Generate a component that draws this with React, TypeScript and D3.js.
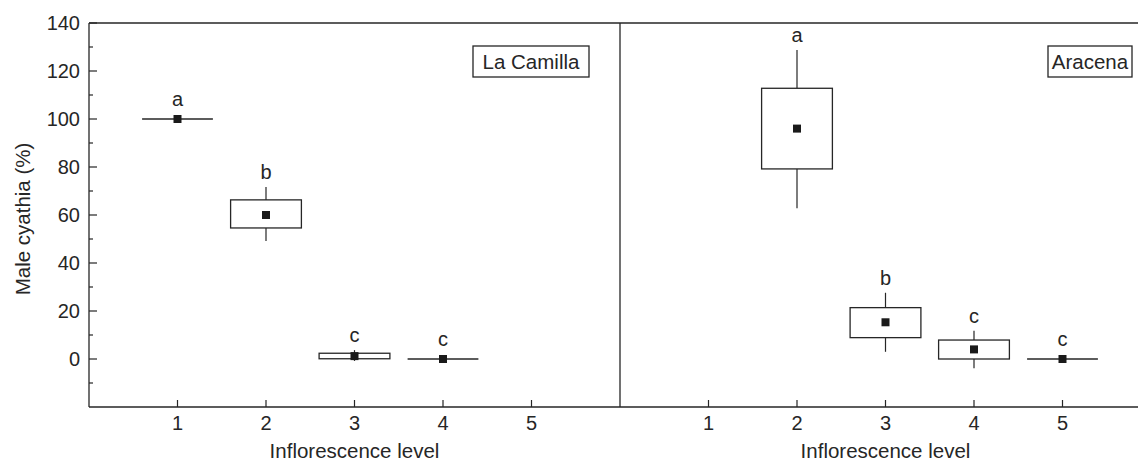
import React from 'react';
import * as d3 from 'd3';

// y ticks and x ticks
const yMajor = [0, 20, 40, 60, 80, 100, 120, 140];
const yMinor = [-10, 10, 30, 50, 70, 90, 110, 130];
const levels = [1, 2, 3, 4, 5];

// La Camilla
const camillaLevel = [1, 2, 3, 4];
const camillaMean = [100, 60, 1.2, 0];
const camillaQ1 = [100, 54.6, 0.1, 0];
const camillaQ3 = [100, 66.3, 2.4, 0];
const camillaLo = [100, 49.2, -0.8, 0];
const camillaHi = [100, 71.7, 3.7, 0];
const camillaLetter = ['a', 'b', 'c', 'c'];

// Aracena
const aracenaLevel = [2, 3, 4, 5];
const aracenaMean = [96, 15.3, 4.0, 0];
const aracenaQ1 = [79.2, 8.9, 0, 0];
const aracenaQ3 = [112.8, 21.4, 7.9, 0];
const aracenaLo = [62.8, 3.0, -3.9, 0];
const aracenaHi = [128.8, 27.6, 11.8, 0];
const aracenaLetter = ['a', 'b', 'c', 'c'];

const W = 1138;
const H = 463;
const top = 23;
const bottom = 407;
const left = 89;
const panelW = 531;
const font = '"Liberation Sans", Arial, sans-serif';
const ink = '#262626';

const y = d3.scaleLinear().domain([-20, 140]).range([bottom, top]);

type Panel = {
  name: string;
  level: number[];
  mean: number[];
  q1: number[];
  q3: number[];
  lo: number[];
  hi: number[];
  letter: string[];
  legendRight: number;
};

const panels: Panel[] = [
  { name: 'La Camilla', level: camillaLevel, mean: camillaMean, q1: camillaQ1, q3: camillaQ3, lo: camillaLo, hi: camillaHi, letter: camillaLetter, legendRight: 31 },
  { name: 'Aracena', level: aracenaLevel, mean: aracenaMean, q1: aracenaQ1, q3: aracenaQ3, lo: aracenaLo, hi: aracenaHi, letter: aracenaLetter, legendRight: 19 },
];

function PanelView({ p, x0 }: { p: Panel; x0: number }) {
  const x = d3.scaleLinear().domain([0, 6]).range([x0, x0 + panelW]);
  const half = (x(0.4) - x(0));
  const legendW = p.name === 'La Camilla' ? 116 : 84;
  const lx = x0 + panelW - p.legendRight - legendW;
  return (
    <g>
      {levels.map(l => (
        <g key={l}>
          <line x1={x(l)} x2={x(l)} y1={bottom} y2={bottom - 7} stroke={ink} strokeWidth={1.2} />
          <text x={x(l)} y={430} textAnchor="middle" fontSize={20} fill={ink} fontFamily={font}>{l}</text>
        </g>
      ))}
      <text x={x(3)} y={458} textAnchor="middle" fontSize={20.5} fill={ink} fontFamily={font}>Inflorescence level</text>
      {p.level.map((l, i) => {
        const flat = p.q1[i] === p.q3[i];
        const cx = x(l);
        return (
          <g key={l}>
            {!flat && (
              <>
                <line x1={cx} x2={cx} y1={y(p.hi[i])} y2={y(p.q3[i])} stroke={ink} strokeWidth={1.2} />
                <line x1={cx} x2={cx} y1={y(p.q1[i])} y2={y(p.lo[i])} stroke={ink} strokeWidth={1.2} />
                <rect x={cx - half} y={y(p.q3[i])} width={half * 2} height={y(p.q1[i]) - y(p.q3[i])} fill="white" stroke={ink} strokeWidth={1.3} />
              </>
            )}
            {flat && <line x1={cx - half} x2={cx + half} y1={y(p.q1[i])} y2={y(p.q1[i])} stroke={ink} strokeWidth={1.3} />}
            <rect x={cx - 4} y={y(p.mean[i]) - 4} width={8} height={8} fill="#1a1a1a" />
            <text x={cx} y={y(p.hi[i]) - (flat ? 13 : 8)} textAnchor="middle" fontSize={20} fill={ink} fontFamily={font}>{p.letter[i]}</text>
          </g>
        );
      })}
      <rect x={lx} y={46} width={legendW} height={31} fill="white" stroke={ink} strokeWidth={1.3} />
      <text x={lx + legendW / 2} y={69} textAnchor="middle" fontSize={20.5} fill={ink} fontFamily={font}>{p.name}</text>
    </g>
  );
}

export default function App() {
  return (
    <div style={{ position: 'absolute', left: 0, top: 0 }}>
      <svg width={W} height={H} style={{ display: 'block', background: 'white' }}>
        {/* frame */}
        <line x1={left} x2={W} y1={top} y2={top} stroke={ink} strokeWidth={1.3} />
        <line x1={left} x2={W} y1={bottom} y2={bottom} stroke={ink} strokeWidth={1.3} />
        <line x1={left} x2={left} y1={top} y2={bottom} stroke={ink} strokeWidth={1.3} />
        <line x1={left + panelW} x2={left + panelW} y1={top} y2={bottom} stroke={ink} strokeWidth={1.3} />
        {yMajor.map(v => (
          <g key={v}>
            <line x1={left} x2={left + 8} y1={y(v)} y2={y(v)} stroke={ink} strokeWidth={1.2} />
            <text x={80} y={y(v)} dy="0.35em" textAnchor="end" fontSize={20} fill={ink} fontFamily={font}>{v}</text>
          </g>
        ))}
        {yMinor.map(v => (
          <line key={v} x1={left} x2={left + 4} y1={y(v)} y2={y(v)} stroke={ink} strokeWidth={1.2} />
        ))}
        <text transform={`translate(30,219) rotate(-90)`} textAnchor="middle" fontSize={20.5} fill={ink} fontFamily={font}>Male cyathia (%)</text>
        {panels.map((p, i) => (
          <PanelView key={p.name} p={p} x0={left + i * panelW} />
        ))}
      </svg>
    </div>
  );
}
